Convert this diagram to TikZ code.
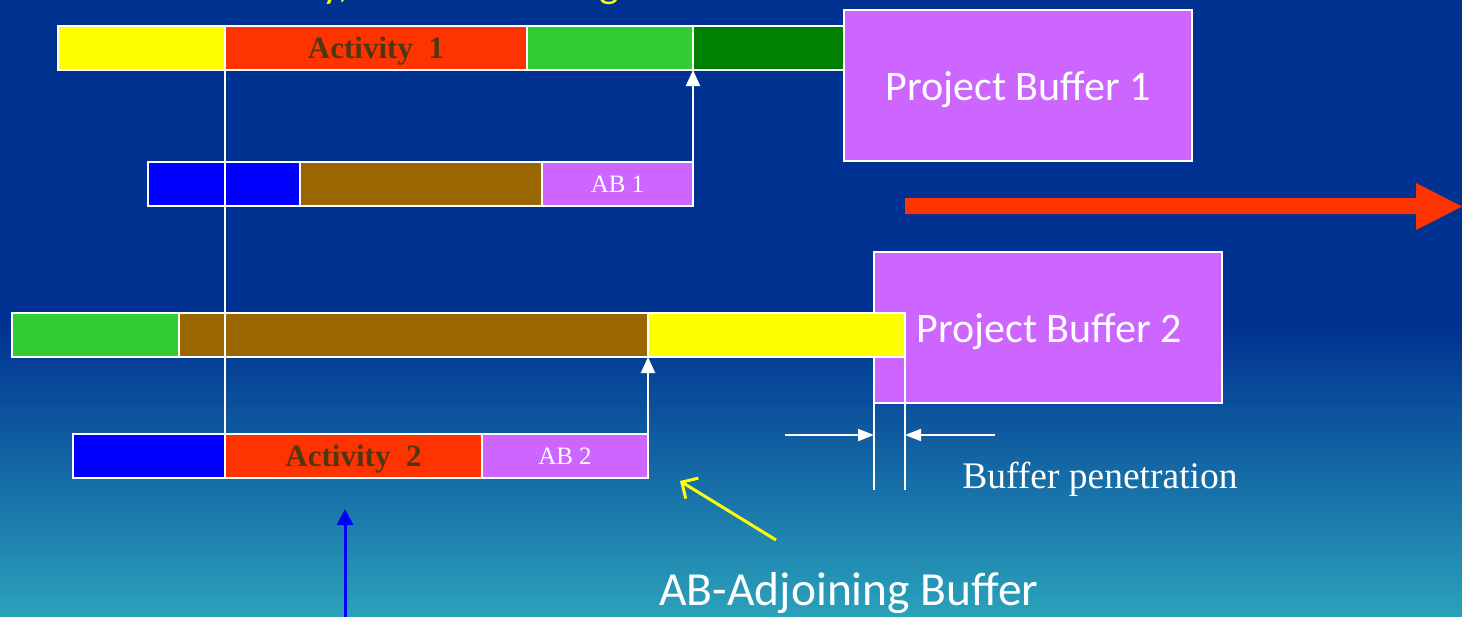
\documentclass[tikz,border=0pt]{standalone}
\usepackage{fontspec}
\setmainfont{Liberation Serif}
\newfontfamily\calfont{Carlito}
\usetikzlibrary{arrows.meta}
\definecolor{bgtop}{RGB}{0,51,145}
\definecolor{bgbot}{RGB}{42,162,186}
\definecolor{cyel}{RGB}{255,255,0}
\definecolor{cred}{RGB}{255,51,0}
\definecolor{cgreen}{RGB}{51,204,51}
\definecolor{cdgreen}{RGB}{0,128,0}
\definecolor{cblue}{RGB}{0,0,255}
\definecolor{cbrown}{RGB}{153,102,0}
\definecolor{cviolet}{RGB}{204,102,255}
\definecolor{actbrown}{RGB}{80,55,20}
\begin{document}
\begin{tikzpicture}[x=1pt,y=-1pt,
  seg/.style={draw=white, line width=2pt, minimum height=44pt, inner sep=0pt, outer sep=0pt, anchor=west},
  pbuf/.style={draw=white, line width=1.5pt, fill=cviolet, inner sep=0pt, outer sep=0pt, anchor=north west, minimum width=348pt, minimum height=151pt},
  acttext/.style={font=\fontsize{31}{31}\selectfont\bfseries, text=actbrown},
  abtext/.style={font=\fontsize{25}{25}\selectfont, text=white},
  caltext/.style={font=\calfont\fontsize{42}{42}\selectfont, text=white},
  wline/.style={draw=white, line width=2pt},
  warrow/.style={draw=white, line width=2pt, -{Triangle[width=14pt,length=16pt]}},
  wsmall/.style={draw=white, line width=2pt, -{Triangle[width=12pt,length=16pt]}},
  yarrow/.style={draw=cyel, line width=3pt, -{Straight Barb[length=12pt,width=24pt,line width=3pt]}},
  barrow/.style={draw=cblue, line width=3pt, -{Triangle[width=16pt,length=16pt]}}
]
\useasboundingbox (0,0) rectangle (1462,616);
\clip (0,0) rectangle (1462,616);
\fill[bgtop] (0,0) rectangle (1462,616);
\shade[top color=bgtop, bottom color=bgbot] (0,330) rectangle (1462,617);

% top title fragments (cut off by the top edge, as in the reference)
\node[font=\calfont\fontsize{42}{42}\selectfont, text=cyel, anchor=base west, inner sep=0pt] (tfa) at (322,-3) {y,};
\node[font=\calfont\fontsize{42}{42}\selectfont, text=cyel, anchor=base west, inner sep=0pt] (tfb) at (599,-3) {g};

% row 1
\node[seg, fill=cyel, minimum width=167pt] (r1y) at (58,48) {};
\node[seg, fill=cred, minimum width=302pt] (r1r) at (225,48) {};
\node[acttext] (r1rt) at (r1r.center) [yshift=-3pt] {Activity~~1};
\node[seg, fill=cgreen, minimum width=166pt] (r1g) at (527,48) {};
\node[seg, fill=cdgreen, minimum width=152pt] (r1d) at (693,48) {};
\node[pbuf] (pb1) at (844,10) {};
\node[caltext] (pb1t) at (1018,90) {Project Buffer 1};

% row 2
\node[seg, fill=cblue, minimum width=152pt] (r2b) at (148,184) {};
\node[seg, fill=cbrown, minimum width=242pt] (r2n) at (300,184) {};
\node[seg, fill=cviolet, minimum width=151pt, abtext] (ab1) at (542,184) {AB 1};

% row 3
\node[pbuf] (pb2) at (874,252) {};
\node[seg, fill=cgreen, minimum width=167pt] (r3g) at (12,335) {};
\node[seg, fill=cbrown, minimum width=469pt] (r3n) at (179,335) {};
\node[seg, fill=cyel, minimum width=257pt] (r3y) at (648,335) {};
\node[caltext] (pb2t) at (1049,332) {Project Buffer 2};

% row 4
\node[seg, fill=cblue, minimum width=152pt] (r4b) at (73,456) {};
\node[seg, fill=cred, minimum width=257pt] (r4r) at (225,456) {};
\node[acttext] (r4rt) at (r4r.center) [yshift=-3pt] {Activity~~2};
\node[seg, fill=cviolet, minimum width=166pt, abtext] (ab2) at (482,456) {AB 2};

% vertical link line
\draw[wline] (r1r.south west) -- ([yshift=-15pt]r4r.north west);

% arrows from adjoining buffers
\draw[warrow] ([yshift=6pt]ab1.south east) -- (r1g.south east);
\draw[warrow] ([yshift=14pt]ab2.south east) -- (r3n.south east);

% buffer penetration
\coordinate (bp1) at (874,490);
\coordinate (bp2) at (905,490);
\draw[wline] (pb2.south west) -- (bp1);
\draw[wline] (r3y.south east) -- (bp2);
\coordinate (bpl) at (785,435);
\coordinate (bpr) at (995,435);
\draw[wsmall] (bpl) -- (bp1 |- bpl);
\draw[wsmall] (bpr) -- (bp2 |- bpr);
\node[font=\fontsize{37.5}{37.5}\selectfont, text=white] (bpt) at (1100,479) {Buffer penetration};

% big red arrow
\fill[cred] (905,198) -- (1416,198) -- (1416,183) -- (1462,206.5) -- (1416,230) -- (1416,214) -- (905,214) -- cycle;

% AB label and yellow arrow
\node[caltext, font=\calfont\fontsize{47.5}{47.5}\selectfont] (adj) at (849,593) {AB-Adjoining Buffer};
\coordinate (ytail) at (776,540);
\coordinate (ytip) at (680,481);
\draw[yarrow] (ytail) -- (ytip);

% blue arrow
\coordinate (bbot) at (345,620);
\coordinate (btip) at (345,509);
\draw[barrow] (bbot) -- (btip);
\end{tikzpicture}
\end{document}
